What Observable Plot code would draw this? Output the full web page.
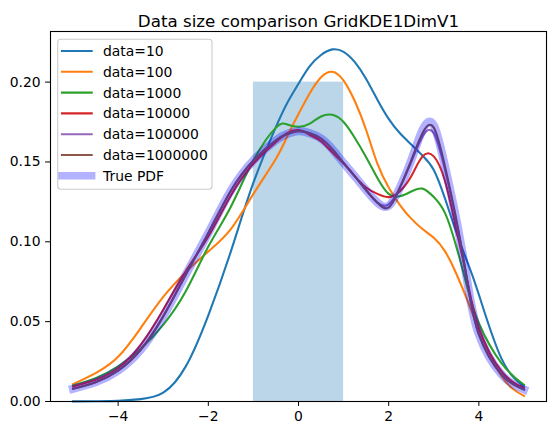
<!DOCTYPE html>
<html><head><meta charset="utf-8">
<script src="https://cdn.jsdelivr.net/npm/d3@7"></script>
<script src="https://cdn.jsdelivr.net/npm/@observablehq/plot@0.6"></script>
<style>
body{margin:0;background:#fff}
#fig{position:relative;width:556px;height:435px;font-family:"DejaVu Sans",sans-serif}
#legend{position:absolute;left:0;top:0;pointer-events:none}
</style>
</head><body><div id="fig"></div>
<script>
const title = "Data size comparison GridKDE1DimV1";
const xTicks = [-4, -2, 0, 2, 4];
const yTicks = [0, 0.05, 0.10, 0.15, 0.20];
const uniformBar = [{x1: -1, x2: 1, y: 0.2}];

const xs = [-5,-4.5,-4,-3.5,-3,-2.5,-2,-1.5,-1,-0.5,-0.25,0,0.25,0.5,0.75,1,1.25,1.5,1.75,2,2.25,2.5,2.75,3,3.25,3.5,3.75,4,4.5,5];

const seriesNames = ["data=10","data=100","data=1000","data=10000","data=100000","data=1000000","True PDF"];
const data10 = [0.0001,0.0002,0.0004,0.0015,0.0055,0.022,0.054,0.094,0.137,0.172,0.187,0.199,0.210,0.217,0.2205,0.219,0.2125,0.202,0.189,0.177,0.168,0.161,0.154,0.145,0.127,0.106,0.087,0.067,0.027,0.0095];
const data100 = [0.0109,0.0178,0.028,0.046,0.0655,0.081,0.094,0.108,0.130,0.152,0.166,0.180,0.193,0.203,0.2065,0.201,0.188,0.170,0.149,0.134,0.123,0.1145,0.108,0.1025,0.094,0.080,0.063,0.045,0.016,0.0035];
const data1000 = [0.010,0.0146,0.022,0.033,0.048,0.069,0.097,0.122,0.151,0.1715,0.1735,0.1720,0.174,0.1785,0.1795,0.175,0.165,0.153,0.140,0.130,0.1285,0.1315,0.1333,0.128,0.118,0.097,0.071,0.049,0.024,0.0105];
const data10000 = [0.0094,0.0136,0.021,0.0355,0.0575,0.0815,0.1034,0.129,0.149,0.1626,0.168,0.170,0.167,0.163,0.156,0.149,0.141,0.134,0.130,0.128,0.1317,0.1410,0.1535,0.1535,0.138,0.108,0.075,0.046,0.019,0.0085];
const data100000 = [0.008,0.0121,0.0194,0.0324,0.0533,0.0794,0.1055,0.132,0.151,0.1636,0.1675,0.1693,0.168,0.1647,0.158,0.1494,0.141,0.1323,0.1245,0.1235,0.134,0.150,0.166,0.168,0.145,0.113,0.074,0.042,0.017,0.0075];
const data1000000 = [0.008,0.0121,0.0194,0.0324,0.0533,0.0794,0.1055,0.132,0.151,0.1636,0.1675,0.1693,0.168,0.1647,0.158,0.1494,0.141,0.1323,0.1245,0.1215,0.134,0.151,0.168,0.1715,0.147,0.114,0.074,0.042,0.017,0.0075];
const truePdf = [0.008,0.0121,0.0194,0.0324,0.0533,0.0794,0.1055,0.132,0.151,0.1636,0.1675,0.1693,0.168,0.1647,0.158,0.1494,0.141,0.1323,0.1245,0.1225,0.134,0.151,0.170,0.173,0.147,0.114,0.074,0.042,0.017,0.0075];

const seriesValues = [data10, data100, data1000, data10000, data100000, data1000000, truePdf];
const colors = ["#1f77b4","#ff7f0e","#2ca02c","#d62728","#9467bd","#8c564b","blue"];
const widths = [2.08,2.08,2.08,2.08,2.08,2.08,8.3];
const opacities = [1,1,1,1,1,1,0.3];

const lineMarks = seriesValues.map((vals, i) =>
  Plot.line(xs.map((x, j) => ({x, y: vals[j]})), {
    x: "x", y: "y", stroke: colors[i], strokeWidth: widths[i], strokeOpacity: opacities[i],
    curve: "natural", strokeLinecap: "square", strokeLinejoin: "round"
  })
);

const chart = Plot.plot({
  width: 556, height: 435,
  marginLeft: 50, marginRight: 10, marginTop: 31, marginBottom: 34,
  style: {fontFamily: "DejaVu Sans", fontSize: "13.9px", color: "black", background: "white", overflow: "visible"},
  x: {domain: [-5.5, 5.5], ticks: xTicks, tickSize: 4.9, tickPadding: 4.9, label: null},
  y: {domain: [0, 0.2317], ticks: yTicks, tickFormat: ".2f", tickSize: 4.9, tickPadding: 4.9, label: null},
  marks: [
    Plot.rectY(uniformBar, {x1: "x1", x2: "x2", y: "y", fill: "#1f77b4", fillOpacity: 0.3}),
    ...lineMarks,
    Plot.frame({stroke: "black", strokeWidth: 1.1}),
    Plot.text([title], {text: d => d, frameAnchor: "top", dy: -16, fontSize: 16.7, fill: "black"})
  ]
});
const fig = document.getElementById("fig");
fig.appendChild(chart);

// legend
const lg = d3.select(fig).append("svg").attr("id", "legend").attr("width", 556).attr("height", 435);
lg.append("rect").attr("x", 57.7).attr("y", 39.3).attr("width", 154.3).attr("height", 150)
  .attr("rx", 3).attr("fill", "white").attr("fill-opacity", 0.8).attr("stroke", "#cccccc").attr("stroke-width", 1.1);
seriesNames.forEach((name, i) => {
  const cy = 51 + i * 20.8;
  lg.append("line").attr("x1", 62).attr("x2", 91.7).attr("y1", cy).attr("y2", cy)
    .attr("stroke", colors[i]).attr("stroke-width", widths[i] > 3 ? 7.5 : 2.08)
    .attr("stroke-opacity", opacities[i]).attr("stroke-linecap", "square");
  lg.append("text").attr("x", 103).attr("y", cy).attr("dominant-baseline", "central")
    .attr("font-family", "DejaVu Sans").attr("font-size", "13.9px").attr("fill", "black").text(name);
});
</script>
</body></html>
